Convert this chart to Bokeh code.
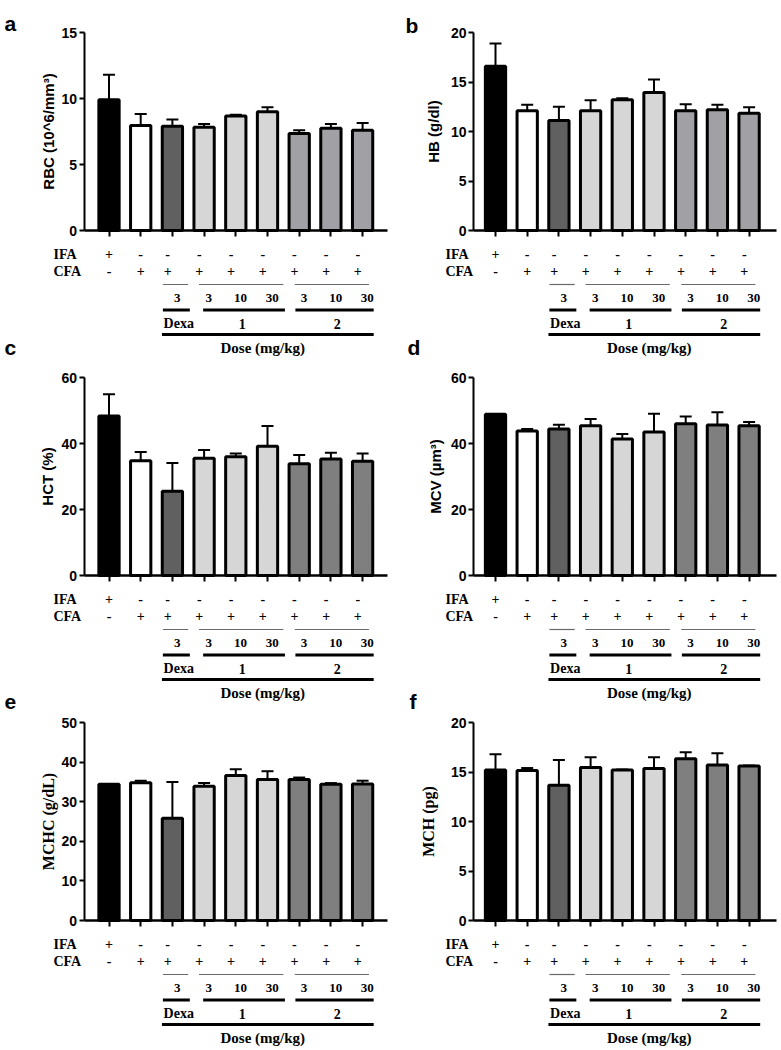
import math
from bokeh.plotting import figure
from bokeh.models import ColumnDataSource, LinearAxis, FixedTicker, Range1d, Whisker, TeeHead
from bokeh.layouts import column, row
from bokeh.embed import file_html
from bokeh.resources import INLINE
from bokeh.core.properties import value

# ---------------- data ----------------
categories = ["IFA", "CFA", "Dexa 3", "1-3", "1-10", "1-30", "2-3", "2-10", "2-30"]
ifa_signs = ["+", "-", "-", "-", "-", "-", "-", "-", "-"]
cfa_signs = ["-", "+", "+", "+", "+", "+", "+", "+", "+"]
dose_labels = ["", "", "3", "3", "10", "30", "3", "10", "30"]
group_names = ["Dexa", "1", "2"]
group_first = [2, 3, 6]
group_last = [2, 5, 8]
dose_title = "Dose (mg/kg)"

rbc_mean = [9.9, 7.95, 7.9, 7.82, 8.68, 9.0, 7.35, 7.75, 7.6]
rbc_sem = [1.9, 0.88, 0.5, 0.25, 0.08, 0.33, 0.24, 0.32, 0.55]
hb_mean = [16.6, 12.1, 11.1, 12.1, 13.2, 13.95, 12.1, 12.2, 11.85]
hb_sem = [2.3, 0.6, 1.4, 1.05, 0.15, 1.3, 0.65, 0.5, 0.6]
hct_mean = [48.3, 34.8, 25.5, 35.5, 36.0, 39.2, 33.9, 35.3, 34.6]
hct_sem = [6.6, 2.6, 8.6, 2.5, 1.0, 6.1, 2.6, 1.9, 2.4]
mcv_mean = [48.9, 43.8, 44.4, 45.4, 41.4, 43.5, 46.0, 45.6, 45.4]
mcv_sem = [0.0, 0.6, 1.3, 2.0, 1.5, 5.5, 2.2, 3.9, 1.1]
mchc_mean = [34.4, 34.8, 25.8, 33.9, 36.6, 35.6, 35.6, 34.4, 34.5]
mchc_sem = [0.0, 0.5, 9.2, 0.8, 1.6, 2.1, 0.5, 0.3, 0.8]
mch_mean = [15.2, 15.15, 13.65, 15.45, 15.2, 15.35, 16.35, 15.7, 15.6]
mch_sem = [1.6, 0.25, 2.55, 1.05, 0.05, 1.15, 0.65, 1.2, 0.05]

# ---------------- layout / style ----------------
SP = 31.7      # px per category
DPX = 198      # px of the value axis
BLACK, WHITE, DEXA, LIGHT = "#000000", "#ffffff", "#606060", "#d6d6d6"
SANS = "Liberation Sans"
SERIF = "Liberation Serif"

COLS = [dict(left=0, width=390, cat0=108.5, axis=83.5, xend=387, lab_left=53),
        dict(left=390, width=390, cat0=495, axis=473, xend=776, lab_left=445)]
ROWS = [dict(top=0, height=362, zero=230),
        dict(top=362, height=354, zero=575),
        dict(top=716, height=334, zero=920)]

panels = [
    dict(letter="a", ylabel="RBC (10^6/mm³)", ymax=15, ticks=[0, 5, 10, 15], mean=rbc_mean, sem=rbc_sem,
         g2="#a1a1a5", lab_font=SANS, lab_size="15px", lab_x=48, letter_pos=(4, 23)),
    dict(letter="b", ylabel="HB (g/dl)", ymax=20, ticks=[0, 5, 10, 15, 20], mean=hb_mean, sem=hb_sem,
         g2="#a1a1a5", lab_font=SANS, lab_size="15px", lab_x=433, letter_pos=(405, 25)),
    dict(letter="c", ylabel="HCT (%)", ymax=60, ticks=[0, 20, 40, 60], mean=hct_mean, sem=hct_sem,
         g2="#7f7f7f", lab_font=SANS, lab_size="15px", lab_x=47, letter_pos=(4, 347)),
    dict(letter="d", ylabel="MCV (µm³)", ymax=60, ticks=[0, 20, 40, 60], mean=mcv_mean, sem=mcv_sem,
         g2="#7f7f7f", lab_font=SANS, lab_size="15px", lab_x=435, letter_pos=(407, 347)),
    dict(letter="e", ylabel="MCHC (g/dL)", ymax=50, ticks=[0, 10, 20, 30, 40, 50], mean=mchc_mean, sem=mchc_sem,
         g2="#7f7f7f", lab_font=SERIF, lab_size="16px", lab_x=48, letter_pos=(4, 701)),
    dict(letter="f", ylabel="MCH (pg)", ymax=20, ticks=[0, 5, 10, 15, 20], mean=mch_mean, sem=mch_sem,
         g2="#7f7f7f", lab_font=SERIF, lab_size="16px", lab_x=428, letter_pos=(409, 701)),
]

THIN_PAD = [(0.3, 0.5), (0.16, 0.5), (0.14, 0.2)]
THICK_PAD = [(0.3, 0.55), (0.03, 0.55), (0.12, 0.35)]


def make_panel(idx):
    r, c = divmod(idx, 2)
    P, C, R = panels[idx], COLS[c], ROWS[r]
    ymax = P["ymax"]

    def dx(px):
        return (px - C["cat0"]) / SP

    def dy(py):
        return (R["zero"] - py) * ymax / DPX

    def off(o):
        return -o * ymax / DPX

    p = figure(width=C["width"], height=R["height"], output_backend="svg", toolbar_location=None,
               title=None, x_axis_type=None, y_axis_type=None,
               x_range=Range1d(dx(C["left"]), dx(C["left"] + C["width"])),
               y_range=Range1d(dy(R["top"] + R["height"]), dy(R["top"])),
               min_border=0, min_border_left=0, min_border_right=0, min_border_top=0, min_border_bottom=0)
    p.outline_line_color = None
    p.background_fill_color = "white"
    p.border_fill_color = "white"

    n = len(categories)
    xs = list(range(n))
    colors = [BLACK, WHITE, DEXA, LIGHT, LIGHT, LIGHT, P["g2"], P["g2"], P["g2"]]
    src = ColumnDataSource(dict(x=xs, cat=categories, mean=P["mean"],
                                upper=[m + s for m, s in zip(P["mean"], P["sem"])], color=colors))
    p.vbar(x="x", top="mean", bottom=0, width=0.64, fill_color="color", line_color="black",
           line_width=3, source=src)
    p.add_layout(Whisker(source=src, base="x", lower="mean", upper="upper", line_width=2,
                         line_color="black", lower_head=None,
                         upper_head=TeeHead(size=12, line_width=2, line_color="black"), level="glyph"))

    x_axis_loc = dx(C["axis"])
    yax = LinearAxis(fixed_location=x_axis_loc, bounds=(0, ymax), ticker=FixedTicker(ticks=P["ticks"]),
                     axis_line_width=2, major_tick_line_width=2, major_tick_out=5, major_tick_in=0,
                     minor_tick_out=0, minor_tick_in=0, major_label_text_font=SANS,
                     major_label_text_font_style="bold", major_label_text_font_size="14px",
                     major_label_standoff=2, major_label_text_color="black")
    p.add_layout(yax, "left")
    xax = LinearAxis(fixed_location=0, bounds=(x_axis_loc, dx(C["xend"])), ticker=FixedTicker(ticks=xs),
                     axis_line_width=2.5, major_tick_line_width=2, major_tick_out=6, major_tick_in=0,
                     minor_tick_out=0, minor_tick_in=0, major_label_text_font_size="0px",
                     major_label_text_color=None)
    p.add_layout(xax, "below")

    # y label
    p.text(x=[dx(P["lab_x"])], y=[ymax / 2], text=[P["ylabel"]], angle=math.pi / 2,
           text_font=value(P["lab_font"]), text_font_style="bold", text_font_size=P["lab_size"],
           text_align="center", text_baseline="middle", text_color="black")

    # panel letters (own, and the one of the next row, which sits in this canvas)
    letters = []
    if r == 0:
        letters.append(P["letter_pos"] + (P["letter"],))
    if r < 2:
        Q = panels[idx + 2]
        letters.append(Q["letter_pos"] + (Q["letter"],))
    for (lx, ly, lt) in letters:
        p.text(x=[dx(lx)], y=[dy(ly)], text=[lt], text_font=value(SANS), text_font_style="bold",
               text_font_size="21px", text_align="left", text_baseline="alphabetic", text_color="black")

    tkw = dict(text_font=value(SERIF), text_font_style="bold", text_baseline="middle", text_color="black")
    # IFA / CFA row titles
    p.text(x=[dx(C["lab_left"])] * 2, y=[off(23.5), off(40.5)], text=["IFA", "CFA"],
           text_font_size="14px", text_align="left", **tkw)
    sx = [i - (0.15 if i >= 2 else 0.0) for i in xs]
    p.text(x=sx, y=[off(23.5)] * n, text=ifa_signs, text_font_size="14px", text_align="center", **tkw)
    p.text(x=sx, y=[off(40.5)] * n, text=cfa_signs, text_font_size="14px", text_align="center", **tkw)

    # dose numbers
    dxs = [i + 0.15 for i, d in zip(xs, dose_labels) if d]
    dls = [d for d in dose_labels if d]
    p.text(x=dxs, y=[off(67.5)] * len(dls), text=dls, text_font_size="13px", text_align="center", **tkw)

    # group lines and names
    for g, (name, f, l) in enumerate(zip(group_names, group_first, group_last)):
        p.line(x=[f - THIN_PAD[g][0], l + THIN_PAD[g][1]], y=[off(54)] * 2, line_width=1.2, line_color="#6a6a6a")
        p.line(x=[f - THICK_PAD[g][0], l + THICK_PAD[g][1]], y=[off(79.5)] * 2, line_width=3, line_color="black")
    gx = [(f + l) / 2 + 0.2 for f, l in zip(group_first, group_last)]
    p.text(x=gx, y=[off(93)] * 3, text=group_names, text_font_size="14px", text_align="center", **tkw)
    p.line(x=[min(group_first) - 0.33, max(group_last) + 0.35], y=[off(104)] * 2, line_width=3, line_color="black")
    p.text(x=[4.85], y=[off(117)], text=[dose_title], text_font_size="15px", text_align="center", **tkw)
    return p


figs = [make_panel(i) for i in range(6)]
layout = column(row(figs[0], figs[1]), row(figs[2], figs[3]), row(figs[4], figs[5]))
open("out.html", "w").write(file_html(layout, INLINE))
